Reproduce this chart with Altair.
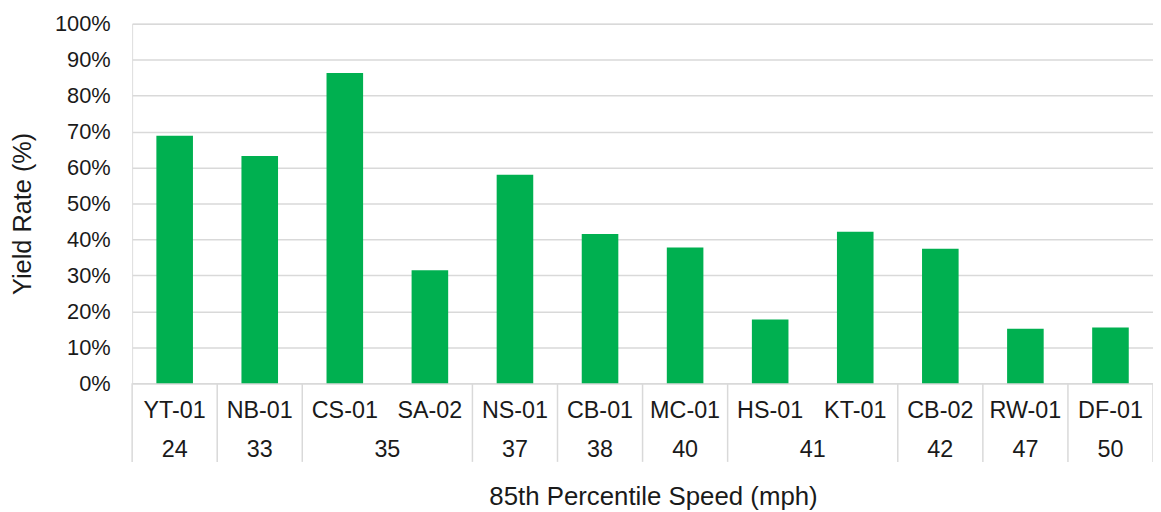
import altair as alt
import pandas as pd

sites = ["YT-01", "NB-01", "CS-01", "SA-02", "NS-01", "CB-01",
         "MC-01", "HS-01", "KT-01", "CB-02", "RW-01", "DF-01"]
speeds = [24, 33, 35, 35, 37, 38, 40, 41, 41, 42, 47, 50]
yield_rate = [68.8, 63.2, 86.3, 31.4, 58.0, 41.5, 37.7, 17.7, 42.1, 37.4, 15.1, 15.5]
y_ticks = [0, 10, 20, 30, 40, 50, 60, 70, 80, 90, 100]

FONT = "Liberation Sans"
TXT = "#1a1a1a"
GRID = "#d9d9d9"
GREEN = "#00B050"

df = pd.DataFrame({"site": sites, "speed": speeds, "rate": yield_rate})

# group table (speed -> first / last site)
groups = []
for sp in dict.fromkeys(speeds):
    members = [s for s, v in zip(sites, speeds) if v == sp]
    groups.append({"speed": str(sp), "first": members[0], "last": members[-1], "n": len(members)})
gdf = pd.DataFrame(groups)
single = gdf[gdf["n"] == 1]
double = gdf[gdf["n"] == 2]
edges = pd.DataFrame({"site": list(gdf["first"])})
right_edge = pd.DataFrame({"site": [sites[-1]]})

xscale = alt.Scale(domain=sites, paddingInner=0, paddingOuter=0)

bars = alt.Chart(df).mark_bar(color=GREEN, width=alt.RelativeBandSize(0.43)).encode(
    x=alt.X("site:N", scale=xscale,
            axis=alt.Axis(labels=False, ticks=False, domain=True, domainColor=GRID,
                          domainWidth=1.5, grid=False,
                          title="85th Percentile Speed (mph)", titleFont=FONT,
                          titleFontSize=26, titleFontWeight="normal", titleColor=TXT,
                          titleX=524.5, titleY=122, titleAlign="center",
                          titleBaseline="alphabetic")),
    y=alt.Y("rate:Q", scale=alt.Scale(domain=[0, 100], nice=False),
            axis=alt.Axis(values=y_ticks, labelExpr="datum.value + '%'",
                          labelFont=FONT, labelFontSize=22, labelColor=TXT,
                          labelPadding=22, ticks=False, tickSize=0, domain=False,
                          grid=True, gridColor=GRID, gridWidth=1.5,
                          title="Yield Rate (%)", titleFont=FONT, titleFontSize=25.5,
                          titleFontWeight="normal", titleColor=TXT,
                          titleX=-102.3, titleY=191, titleAngle=270,
                          titleAlign="center", titleBaseline="alphabetic")),
)

site_labels = alt.Chart(df).mark_text(
    font=FONT, fontSize=23.5, color=TXT, baseline="alphabetic", align="center"
).encode(
    x=alt.X("site:N", scale=xscale, bandPosition=0.5),
    y=alt.value(397.3),
    text="site:N",
)

speed_single = alt.Chart(single).mark_text(
    font=FONT, fontSize=23.5, color=TXT, baseline="alphabetic", align="center"
).encode(
    x=alt.X("first:N", scale=xscale, bandPosition=0.5),
    y=alt.value(436.3),
    text="speed:N",
)

speed_double = alt.Chart(double).mark_text(
    font=FONT, fontSize=23.5, color=TXT, baseline="alphabetic", align="center"
).encode(
    x=alt.X("first:N", scale=xscale, bandPosition=1.0),
    y=alt.value(436.3),
    text="speed:N",
)

sep_rules = alt.Chart(edges).mark_rule(color=GRID, strokeWidth=1.5).encode(
    x=alt.X("site:N", scale=xscale, bandPosition=0.0),
    y=alt.value(362),
    y2=alt.value(441.3),
)

end_rule = alt.Chart(right_edge).mark_rule(color=GRID, strokeWidth=1.5).encode(
    x=alt.X("site:N", scale=xscale, bandPosition=1.0),
    y=alt.value(362),
    y2=alt.value(441.3),
)

chart = alt.layer(bars, sep_rules, end_rule, site_labels, speed_single, speed_double).properties(
    width=1028, height=362, autosize="none",
    padding={"left": 125, "top": 14, "right": 0, "bottom": 128},
).configure_view(stroke=None).configure(background="white")

chart.save("out.html", embed_options={"renderer": "svg", "actions": False})
